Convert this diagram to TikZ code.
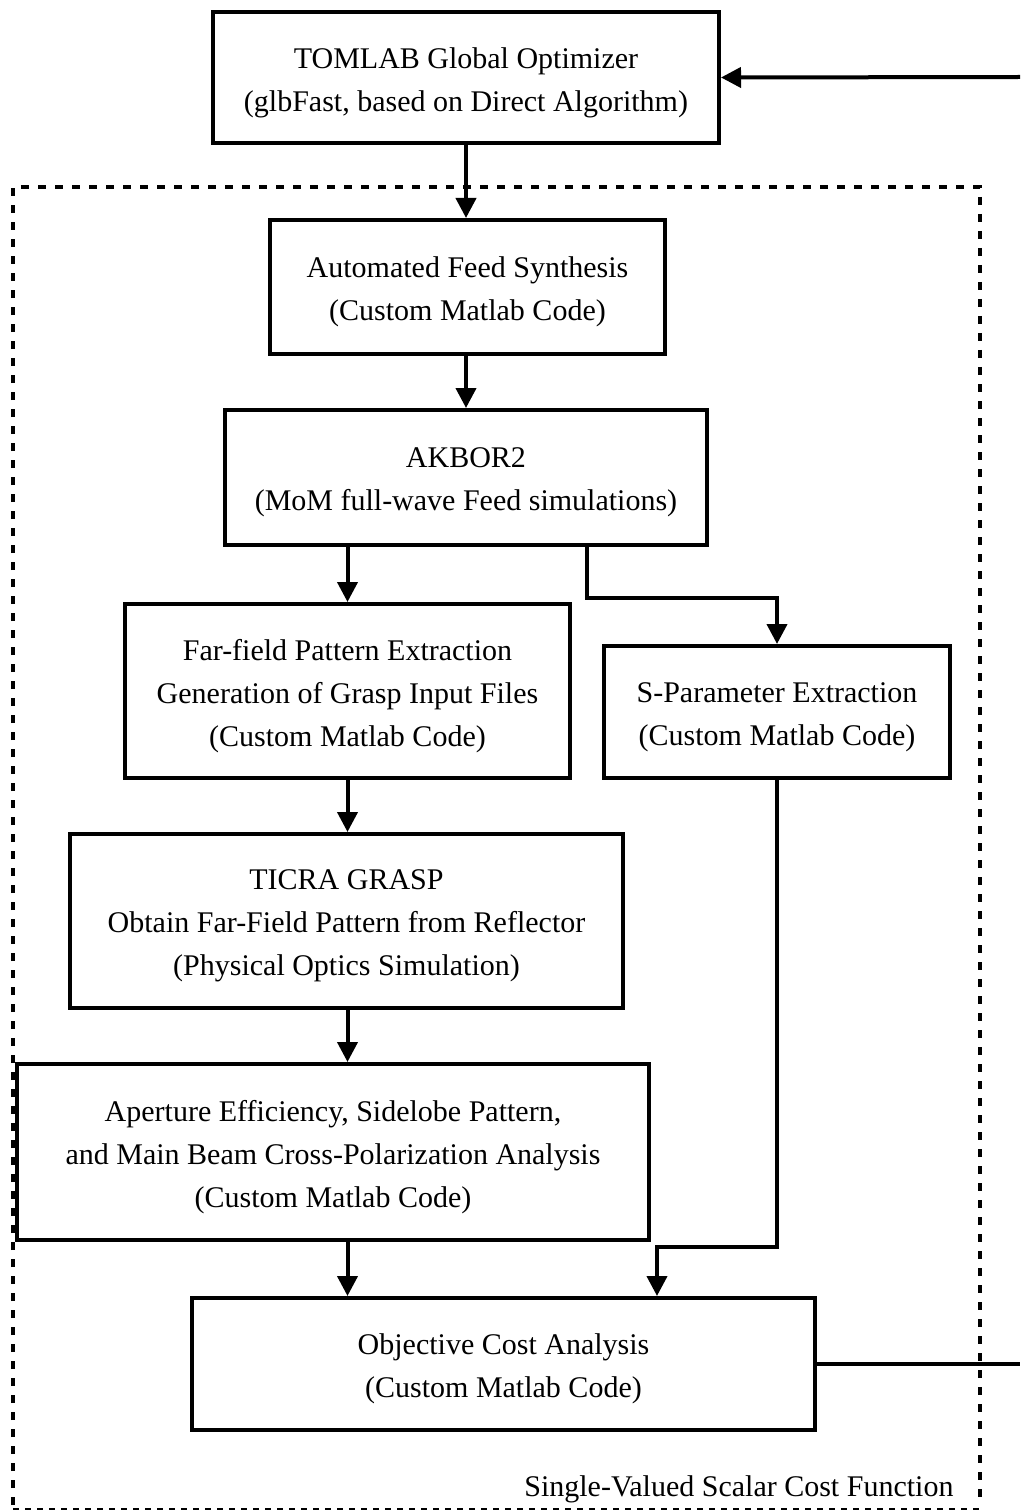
\documentclass[tikz,border=0pt]{standalone}
\usepackage{fontspec}
\setmainfont{Liberation Serif}
\usetikzlibrary{arrows.meta}
\begin{document}
\begin{tikzpicture}[x=1pt,y=-1pt,
  box/.style={draw, line width=4pt, inner sep=0pt},
  txt/.style={align=center, inner sep=0pt, font=\fontsize{30}{43}\selectfont},
  arr/.style={line width=4pt, -{Triangle[length=20pt,width=20pt]}},
  fb/.style={line width=3.5pt}]
\useasboundingbox (0,0) rectangle (1020,1511);
% dashed enclosure
\draw[line width=4pt, dash pattern=on 8pt off 9pt] (13,1505) -- (13,187) -- (980,187) -- (980,1505);
\draw[line width=1.5pt, dash pattern=on 6pt off 6pt] (13,1509) -- (980,1509);
\node[anchor=east, font=\fontsize{30}{36}\selectfont] (lbl) at (957,1489) {Single-Valued Scalar Cost Function};
% boxes
\node[box, minimum width=506pt, minimum height=131pt] (tom) at (466,77.5) {};
\node[txt] (tomt) at ([yshift=-5pt]tom.center) {TOMLAB Global Optimizer\\(glbFast, based on Direct Algorithm)};
\node[box, minimum width=395pt, minimum height=134pt] (auto) at (467.5,287) {};
\node[txt] (autot) at ([yshift=-5pt]auto.center) {Automated Feed Synthesis\\ (Custom Matlab Code)};
\node[box, minimum width=482pt, minimum height=135pt] (ak) at (466,477.5) {};
\node[txt] (akt) at ([yshift=-5pt]ak.center) {AKBOR2\\(MoM full-wave Feed simulations)};
\node[box, minimum width=445pt, minimum height=174pt] (ff) at (347.5,691) {};
\node[txt] (fft) at ([yshift=-5pt]ff.center) {Far-field Pattern Extraction\\Generation of Grasp Input Files\\(Custom Matlab Code)};
\node[box, minimum width=346pt, minimum height=132pt] (sp) at (777,712) {};
\node[txt] (spt) at ([yshift=-5pt]sp.center) {S-Parameter Extraction\\(Custom Matlab Code)};
\node[box, minimum width=553pt, minimum height=174pt] (ti) at (346.5,921) {};
\node[txt] (tit) at ([yshift=-5pt]ti.center) {TICRA GRASP\\Obtain Far-Field Pattern from Reflector\\(Physical Optics Simulation)};
\node[box, minimum width=632pt, minimum height=176pt] (ap) at (333,1152) {};
\node[txt] (apt) at ([yshift=-5pt]ap.center) {Aperture Efficiency, Sidelobe Pattern,\\and Main Beam Cross-Polarization Analysis\\(Custom Matlab Code)};
\node[box, minimum width=623pt, minimum height=132pt] (obj) at (503.5,1364) {};
\node[txt] (objt) at ([yshift=-5pt]obj.center) {Objective Cost Analysis\\ (Custom Matlab Code)};
% connectors
\draw[arr] (tom.south) -- (auto.north -| tom.south);
\draw[arr] (auto.south -| tom.south) -- (ak.north -| tom.south);
\draw[arr] (ak.south -| ff.north) -- (ff.north);
\draw[arr] ([xshift=121pt]ak.south) -- ++(0,51) -| (sp.north);
\draw[arr] (ff.south) -- (ti.north -| ff.south);
\draw[arr] (ti.south -| ff.south) -- (ap.north -| ff.south);
\draw[arr] (ap.south -| ff.south) -- (obj.north -| ff.south);
\draw[arr] (sp.south) -- ++(0,467) -| ([xshift=153.5pt]obj.north);
% feedback loop (runs off the right edge)
\coordinate (fbR) at (1020,1364);
\coordinate (fbT) at (1020,77);
\draw[fb] (obj.east) -- (fbR);
\draw[arr] (fbT) -- (tom.east);
\end{tikzpicture}
\end{document}
